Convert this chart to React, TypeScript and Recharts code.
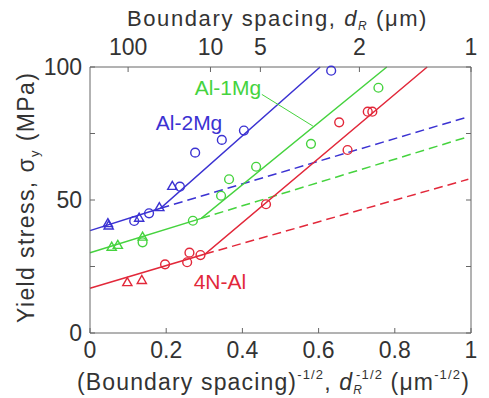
import React from 'react';
import { ComposedChart, Line, Scatter, XAxis, YAxis, ReferenceDot } from 'recharts';

const FONT = '"Liberation Sans", Arial, sans-serif';
const TXT = '#333';
const AX = '#666';
const BLUE = '#3b32d2';
const GREEN = '#45d33e';
const RED = '#e2283a';

// measured points (x = d^-1/2, y = yield stress MPa)
const blueCircles = [
  { x: 0.116, y: 42.1 }, { x: 0.155, y: 45.0 }, { x: 0.236, y: 55.0 }, { x: 0.276, y: 67.8 },
  { x: 0.346, y: 72.6 }, { x: 0.404, y: 76.1 }, { x: 0.633, y: 98.6 },
];
const blueTriangles = [
  { x: 0.047, y: 41.3 }, { x: 0.049, y: 40.4 }, { x: 0.129, y: 43.3 }, { x: 0.182, y: 47.3 }, { x: 0.216, y: 55.3 },
];
const greenCircles = [
  { x: 0.138, y: 34.1 }, { x: 0.27, y: 42.2 }, { x: 0.344, y: 51.6 }, { x: 0.365, y: 57.8 },
  { x: 0.436, y: 62.5 }, { x: 0.58, y: 71.1 }, { x: 0.757, y: 92.2 },
];
const greenTriangles = [
  { x: 0.057, y: 32.4 }, { x: 0.073, y: 33.1 }, { x: 0.138, y: 36.2 },
];
const redCircles = [
  { x: 0.197, y: 25.8 }, { x: 0.255, y: 26.6 }, { x: 0.261, y: 30.2 }, { x: 0.29, y: 29.3 },
  { x: 0.462, y: 48.4 }, { x: 0.654, y: 79.2 }, { x: 0.676, y: 68.8 }, { x: 0.729, y: 83.2 }, { x: 0.741, y: 83.2 },
];
const redTriangles = [
  { x: 0.098, y: 19.1 }, { x: 0.136, y: 19.9 },
];

// fitted lines
const blueSolid = [{ x: 0, y: 38.5 }, { x: 0.185, y: 46.9 }, { x: 0.604, y: 100 }];
const blueDashed = [{ x: 0.185, y: 46.9 }, { x: 0.993, y: 81.3 }];
const greenSolid = [{ x: 0, y: 30.2 }, { x: 0.292, y: 43.1 }, { x: 0.779, y: 100 }];
const greenDashed = [{ x: 0.292, y: 43.1 }, { x: 0.993, y: 73.8 }];
const redSolid = [{ x: 0, y: 16.8 }, { x: 0.302, y: 29.7 }, { x: 0.885, y: 100 }];
const redDashed = [{ x: 0.302, y: 29.7 }, { x: 0.993, y: 57.8 }];

const bottomTicks = [0, 0.2, 0.4, 0.6, 0.8, 1];
const topTickLabels = ['100', '10', '5', '2', '1'];
const topTickSpacings = [100, 10, 5, 2, 1];
const topTicks = topTickSpacings.map((d) => 1 / Math.sqrt(d));
const yTicks = [0, 25, 50, 75, 100];
const yLabelled = [0, 50, 100];

const annotation = [{ x: 0.451, y: 89.7 }, { x: 0.585, y: 77.8 }];

const circleShape = (color: string) => (p: any) => (
  <circle cx={p.cx} cy={p.cy} r={4.4} fill="none" stroke={color} strokeWidth={1.4} />
);
const triShape = (color: string) => (p: any) => {
  const s = 4.6;
  const pts = `${p.cx},${p.cy - s} ${p.cx - s},${p.cy + s * 0.75} ${p.cx + s},${p.cy + s * 0.75}`;
  return <polygon points={pts} fill="none" stroke={color} strokeWidth={1.4} />;
};

const tickStyle = { fontSize: 23, fill: TXT, fontFamily: FONT };

const Titles = () => (
  <g fontFamily={FONT} fill={TXT}>
    <text x={127} y={26} fontSize={22} letterSpacing={1.6}>
      Boundary spacing,{' '}
      <tspan fontStyle="italic">d</tspan>
      <tspan fontStyle="italic" fontSize={12} dy={4}>R</tspan>
      <tspan dy={-4}> (μm)</tspan>
    </text>
    <text x={77} y={390} fontSize={23} letterSpacing={1.15}>
      (Boundary spacing)
      <tspan fontSize={13} dy={-11}>-1/2</tspan>
      <tspan dy={11}>, </tspan>
      <tspan fontStyle="italic">d</tspan>
      <tspan fontStyle="italic" fontSize={12} dy={4}>R</tspan>
      <tspan fontSize={13} dy={-15} dx={-7}>-1/2</tspan>
      <tspan dy={11}> (μm</tspan>
      <tspan fontSize={13} dy={-11}>-1/2</tspan>
      <tspan dy={11}>)</tspan>
    </text>
    <text x={34} y={323} fontSize={23} letterSpacing={1.4} transform="rotate(-90 34 323)">
      Yield stress, σ
      <tspan fontSize={13} dy={5}>y</tspan>
      <tspan dy={-5}> (MPa)</tspan>
    </text>
  </g>
);

export default function App() {
  return (
    <div style={{ position: 'absolute', left: 0, top: 0, width: 489, height: 398, background: '#fff' }}>
      <ComposedChart width={489} height={398} margin={{ top: 37, right: 8, bottom: 25, left: 40 }}>
        <XAxis
          xAxisId="bottom"
          dataKey="x"
          type="number"
          domain={[0, 1]}
          ticks={bottomTicks}
          tickFormatter={(v: number) => String(v)}
          height={40}
          stroke={AX}
          tickSize={-5}
          tickMargin={14}
          tick={tickStyle}
          label={{ content: () => <Titles /> }}
        />
        <XAxis
          xAxisId="top"
          orientation="top"
          dataKey="x"
          type="number"
          domain={[0, 1]}
          ticks={topTicks}
          tickFormatter={(v: number) => topTickLabels[topTicks.findIndex((t) => Math.abs(t - v) < 1e-6)] ?? ''}
          height={30}
          stroke={AX}
          tickSize={-5}
          tickMargin={17}
          tick={tickStyle}
        />
        <YAxis
          yAxisId="left"
          type="number"
          domain={[0, 100]}
          ticks={yTicks}
          tickFormatter={(v: number) => (yLabelled.includes(v) ? String(v) : '')}
          width={50}
          stroke={AX}
          tickSize={-5}
          tickMargin={13}
          tick={tickStyle}
        />
        <YAxis
          yAxisId="right"
          orientation="right"
          type="number"
          domain={[0, 100]}
          ticks={yTicks}
          tickFormatter={() => ''}
          width={10}
          stroke={AX}
          tickSize={-5}
        />
        <Line xAxisId="bottom" yAxisId="left" data={blueSolid} dataKey="y" stroke={BLUE} strokeWidth={1.5} dot={false} isAnimationActive={false} />
        <Line xAxisId="top" yAxisId="right" data={blueDashed} dataKey="y" stroke={BLUE} strokeWidth={1.5} strokeDasharray="9 5" dot={false} isAnimationActive={false} />
        <Line xAxisId="bottom" yAxisId="left" data={greenSolid} dataKey="y" stroke={GREEN} strokeWidth={1.5} dot={false} isAnimationActive={false} />
        <Line xAxisId="bottom" yAxisId="left" data={greenDashed} dataKey="y" stroke={GREEN} strokeWidth={1.5} strokeDasharray="9 5" dot={false} isAnimationActive={false} />
        <Line xAxisId="bottom" yAxisId="left" data={redSolid} dataKey="y" stroke={RED} strokeWidth={1.5} dot={false} isAnimationActive={false} />
        <Line xAxisId="bottom" yAxisId="left" data={redDashed} dataKey="y" stroke={RED} strokeWidth={1.5} strokeDasharray="9 5" dot={false} isAnimationActive={false} />
        <Line xAxisId="bottom" yAxisId="left" data={annotation} dataKey="y" stroke={GREEN} strokeWidth={1} dot={false} isAnimationActive={false} />
        <Scatter xAxisId="bottom" yAxisId="left" data={blueCircles} dataKey="y" shape={circleShape(BLUE)} isAnimationActive={false} />
        <Scatter xAxisId="bottom" yAxisId="left" data={blueTriangles} dataKey="y" shape={triShape(BLUE)} isAnimationActive={false} />
        <Scatter xAxisId="bottom" yAxisId="left" data={greenCircles} dataKey="y" shape={circleShape(GREEN)} isAnimationActive={false} />
        <Scatter xAxisId="bottom" yAxisId="left" data={greenTriangles} dataKey="y" shape={triShape(GREEN)} isAnimationActive={false} />
        <Scatter xAxisId="bottom" yAxisId="left" data={redCircles} dataKey="y" shape={circleShape(RED)} isAnimationActive={false} />
        <Scatter xAxisId="bottom" yAxisId="left" data={redTriangles} dataKey="y" shape={triShape(RED)} isAnimationActive={false} />
        <ReferenceDot xAxisId="bottom" yAxisId="left" x={0.26} y={79} r={0} label={{ value: 'Al-2Mg', position: 'center', fill: BLUE, fontSize: 21, fontFamily: FONT }} />
        <ReferenceDot xAxisId="bottom" yAxisId="left" x={0.362} y={92.1} r={0} label={{ value: 'Al-1Mg', position: 'center', fill: GREEN, fontSize: 21, fontFamily: FONT }} />
        <ReferenceDot xAxisId="bottom" yAxisId="left" x={0.341} y={19.2} r={0} label={{ value: '4N-Al', position: 'center', fill: RED, fontSize: 21, fontFamily: FONT }} />
      </ComposedChart>
    </div>
  );
}
